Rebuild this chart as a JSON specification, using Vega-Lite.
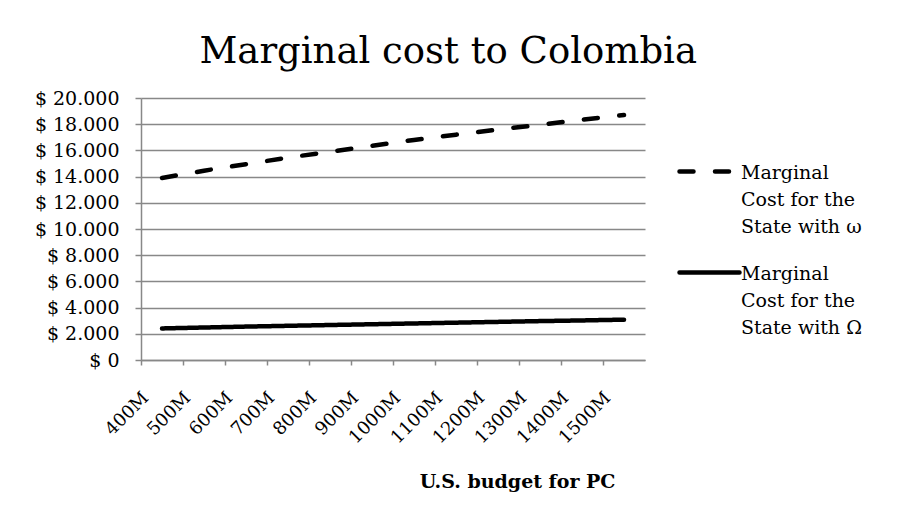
{
  "$schema": "https://vega.github.io/schema/vega-lite/v6.json",
  "width": 504,
  "height": 262,
  "padding": {"left": 34, "top": 33, "right": 5, "bottom": 5},
  "background": "white",
  "title": {
    "text": "Marginal cost to Colombia",
    "font": "DejaVu Serif",
    "fontSize": 37,
    "fontWeight": "normal",
    "color": "black",
    "anchor": "middle",
    "frame": "bounds",
    "baseline": "bottom",
    "offset": -19
  },
  "data": {
    "values": [
      {"budget": "400M", "series": "Marginal Cost for the State with ω", "cost": 13900},
      {"budget": "500M", "series": "Marginal Cost for the State with ω", "cost": 14450},
      {"budget": "600M", "series": "Marginal Cost for the State with ω", "cost": 14950},
      {"budget": "700M", "series": "Marginal Cost for the State with ω", "cost": 15450},
      {"budget": "800M", "series": "Marginal Cost for the State with ω", "cost": 15900},
      {"budget": "900M", "series": "Marginal Cost for the State with ω", "cost": 16350},
      {"budget": "1000M", "series": "Marginal Cost for the State with ω", "cost": 16800},
      {"budget": "1100M", "series": "Marginal Cost for the State with ω", "cost": 17200},
      {"budget": "1200M", "series": "Marginal Cost for the State with ω", "cost": 17600},
      {"budget": "1300M", "series": "Marginal Cost for the State with ω", "cost": 17950},
      {"budget": "1400M", "series": "Marginal Cost for the State with ω", "cost": 18350},
      {"budget": "1500M", "series": "Marginal Cost for the State with ω", "cost": 18700},
      {"budget": "400M", "series": "Marginal Cost for the State with Ω", "cost": 2410},
      {"budget": "500M", "series": "Marginal Cost for the State with Ω", "cost": 2480},
      {"budget": "600M", "series": "Marginal Cost for the State with Ω", "cost": 2550},
      {"budget": "700M", "series": "Marginal Cost for the State with Ω", "cost": 2610},
      {"budget": "800M", "series": "Marginal Cost for the State with Ω", "cost": 2670},
      {"budget": "900M", "series": "Marginal Cost for the State with Ω", "cost": 2730},
      {"budget": "1000M", "series": "Marginal Cost for the State with Ω", "cost": 2790},
      {"budget": "1100M", "series": "Marginal Cost for the State with Ω", "cost": 2850},
      {"budget": "1200M", "series": "Marginal Cost for the State with Ω", "cost": 2910},
      {"budget": "1300M", "series": "Marginal Cost for the State with Ω", "cost": 2970},
      {"budget": "1400M", "series": "Marginal Cost for the State with Ω", "cost": 3020},
      {"budget": "1500M", "series": "Marginal Cost for the State with Ω", "cost": 3080}
    ]
  },
  "mark": {"type": "line", "strokeWidth": 4.5, "strokeCap": "round", "color": "black"},
  "encoding": {
    "x": {
      "field": "budget",
      "type": "ordinal",
      "sort": null,
      "bandPosition": 0.5,
      "scale": {"type": "band", "paddingInner": 0, "paddingOuter": 0},
      "axis": {
        "title": "U.S. budget for PC",
        "titleFont": "DejaVu Serif",
        "titleFontWeight": "bold",
        "titleFontSize": 19,
        "titleColor": "black",
        "titleAlign": "right",
        "titleAnchor": "start",
        "titleBaseline": "alphabetic",
        "titleX": 474,
        "titleY": 127,
        "labelAngle": -45,
        "labelAlign": "right",
        "labelBaseline": "middle",
        "labelOffset": -16,
        "labelPadding": 30,
        "labelFont": "DejaVu Serif",
        "labelFontSize": 18,
        "labelColor": "black",
        "labelOverlap": false,
        "labelBound": false,
        "bandPosition": 0,
        "tickSize": 5,
        "tickColor": "#888888",
        "tickWidth": 1.5,
        "domainColor": "#888888",
        "domainWidth": 1.5,
        "grid": false
      }
    },
    "y": {
      "field": "cost",
      "type": "quantitative",
      "scale": {"domain": [0, 20000], "nice": false},
      "axis": {
        "title": null,
        "values": [0, 2000, 4000, 6000, 8000, 10000, 12000, 14000, 16000, 18000, 20000],
        "labelExpr": "'$ ' + replace(format(datum.value, ','), regexp(',', 'g'), '.')",
        "labelFont": "DejaVu Serif",
        "labelFontSize": 19,
        "labelColor": "black",
        "labelPadding": 16,
        "tickSize": 6,
        "tickColor": "#888888",
        "tickWidth": 1.5,
        "domainColor": "#888888",
        "domainWidth": 1.5,
        "gridColor": "#888888",
        "gridWidth": 1.5
      }
    },
    "strokeDash": {
      "field": "series",
      "type": "nominal",
      "scale": {
        "domain": ["Marginal Cost for the State with ω", "Marginal Cost for the State with Ω"],
        "range": [[14, 21.5], [1, 0]]
      },
      "legend": {
        "title": null,
        "orient": "none",
        "legendX": 536,
        "legendY": 41,
        "labelExpr": "['Marginal', 'Cost for the', 'State with ' + slice(datum.label, -1)]",
        "labelFont": "DejaVu Serif",
        "labelFontSize": 19,
        "labelColor": "black",
        "labelLimit": 400,
        "labelOffset": -1,
        "labelBaseline": "alphabetic",
        "symbolType": "stroke",
        "symbolSize": 3600,
        "symbolStrokeWidth": 4.5,
        "symbolStrokeColor": "black",
        "rowPadding": 3,
        "encode": {
          "labels": {"update": {"lineHeight": {"value": 27}, "dy": {"value": 7}}},
          "symbols": {"update": {"strokeCap": {"value": "round"}}}
        }
      }
    }
  },
  "config": {
    "view": {"stroke": null}
  }
}
